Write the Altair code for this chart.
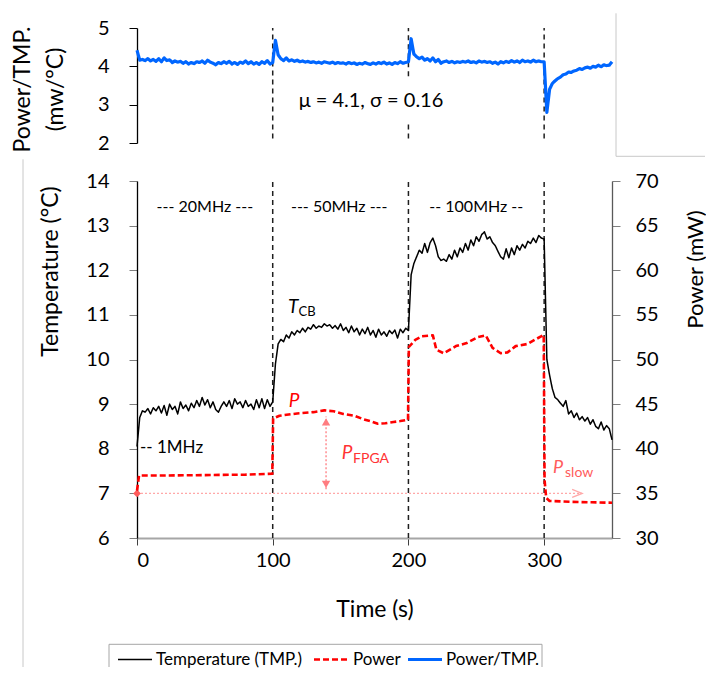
import altair as alt
import pandas as pd

FONT = "Lato"

# ---------------- data ----------------
time_s = list(range(0, 351, 2))

temperature_c = [
    # 0 - 98 s
    8.05, 8.70, 8.85, 8.82, 8.90, 8.78, 8.92, 8.85, 8.95, 8.80,
    8.97, 8.75, 9.00, 8.88, 8.95, 8.78, 9.05, 8.90, 8.98, 8.85,
    9.02, 8.92, 9.08, 8.95, 9.15, 8.98, 9.10, 8.92, 9.05, 8.88,
    8.82, 8.95, 9.05, 8.95, 9.08, 8.90, 9.12, 9.00, 9.05, 8.92,
    9.08, 8.95, 9.00, 8.88, 9.10, 8.92, 9.12, 8.90, 9.10, 8.95,
    # 100 - 198 s
    9.05, 9.90, 10.35, 10.45, 10.40, 10.55, 10.48, 10.62, 10.55, 10.65,
    10.60, 10.70, 10.62, 10.72, 10.68, 10.78, 10.70, 10.75, 10.72, 10.80,
    10.75, 10.78, 10.70, 10.76, 10.68, 10.80, 10.65, 10.72, 10.60, 10.75,
    10.62, 10.70, 10.55, 10.68, 10.58, 10.72, 10.55, 10.65, 10.50, 10.68,
    10.55, 10.62, 10.52, 10.65, 10.58, 10.66, 10.48, 10.68, 10.60, 10.70,
    # 200 - 298 s
    10.65, 11.90, 12.15, 12.30, 12.45, 12.38, 12.60, 12.40, 12.62, 12.72,
    12.55, 12.30, 12.22, 12.25, 12.20, 12.35, 12.25, 12.45, 12.30, 12.50,
    12.40, 12.60, 12.45, 12.68, 12.55, 12.75, 12.65, 12.80, 12.86, 12.70,
    12.75, 12.62, 12.55, 12.42, 12.30, 12.25, 12.48, 12.28, 12.50, 12.35,
    12.55, 12.45, 12.58, 12.50, 12.65, 12.60, 12.72, 12.62, 12.78, 12.72,
    # 300 - 350 s
    12.70, 10.00, 9.65, 9.35, 9.15, 9.10, 9.02, 8.95, 9.08, 8.78,
    8.85, 8.70, 8.80, 8.65, 8.72, 8.62, 8.70, 8.55, 8.65, 8.50,
    8.45, 8.60, 8.42, 8.52, 8.45, 8.20,
]

ratio_mw_per_c = [
    # 0 - 98 s
    4.42, 4.16, 4.18, 4.15, 4.20, 4.14, 4.18, 4.13, 4.20, 4.12,
    4.22, 4.15, 4.17, 4.10, 4.14, 4.11, 4.13, 4.08, 4.12, 4.06,
    4.10, 4.07, 4.12, 4.10, 4.14, 4.08, 4.16, 4.11, 4.08, 4.04,
    4.10, 4.07, 4.12, 4.08, 4.13, 4.06, 4.10, 4.05, 4.11, 4.08,
    4.14, 4.07, 4.12, 4.06, 4.10, 4.05, 4.12, 4.08, 4.15, 4.06,
    # 100 - 198 s
    4.10, 4.68, 4.30, 4.20, 4.15, 4.22, 4.14, 4.17, 4.13, 4.16,
    4.12, 4.14, 4.11, 4.13, 4.10, 4.12, 4.09, 4.11, 4.08, 4.12,
    4.10, 4.08, 4.11, 4.07, 4.10, 4.08, 4.09, 4.06, 4.10, 4.07,
    4.09, 4.05, 4.08, 4.06, 4.10, 4.07, 4.05, 4.09, 4.06, 4.10,
    4.07, 4.11, 4.06, 4.09, 4.05, 4.10, 4.07, 4.12, 4.08, 4.10,
    # 200 - 298 s
    4.12, 4.72, 4.32, 4.25, 4.20, 4.24, 4.16, 4.20, 4.14, 4.22,
    4.12, 4.18, 4.08, 4.12, 4.14, 4.10, 4.13, 4.09, 4.12, 4.10,
    4.13, 4.11, 4.14, 4.10, 4.12, 4.09, 4.14, 4.11, 4.13, 4.10,
    4.12, 4.08, 4.11, 4.06, 4.12, 4.09, 4.13, 4.10, 4.15, 4.11,
    4.14, 4.10, 4.16, 4.12, 4.14, 4.11, 4.16, 4.12, 4.14, 4.12,
    # 300 - 350 s
    4.12, 2.80, 3.40, 3.55, 3.62, 3.68, 3.72, 3.78, 3.80, 3.85,
    3.84, 3.88, 3.90, 3.94, 3.92, 3.96, 3.98, 3.95, 4.00, 3.98,
    4.03, 3.99, 4.04, 4.02, 4.03, 4.12,
]

power_time_s = [0, 1.5, 20, 50, 80, 99.7,
                100.3, 105, 118, 130, 138, 145, 152, 160, 167, 172,
                177.5, 183, 189, 194, 199.7,
                200.3, 205, 210, 218, 220.6, 226, 235, 243, 251, 257,
                262, 268, 273, 279, 288, 293, 299.7,
                300.3, 301.5, 304, 320, 335, 350]
power_mw = [35.3, 37.0, 37.0, 37.05, 37.1, 37.2,
            43.4, 43.7, 43.95, 44.1, 44.3, 44.2, 43.9, 43.7, 43.3, 43.1,
            42.8, 42.85, 43.0, 43.1, 43.25,
            51.4, 52.2, 52.6, 52.7, 51.1, 50.7, 51.5, 51.85, 52.5, 52.7,
            51.3, 50.7, 50.8, 51.5, 51.75, 52.2, 52.75,
            36.5, 34.5, 34.15, 34.05, 34.0, 33.95]

series_names = ["Temperature (TMP.)", "Power", "Power/TMP."]
series_colors = ["#000000", "#ff0000", "#0066ff"]
series_dash = [[1, 0], [6, 3], [1, 0]]
series_width = [1.5, 2.6, 3.2]

switch_x = [100, 200, 300]
clock_x = [50, 149, 250]
clock_labels = ["--- 20MHz ---", "--- 50MHz ---", "-- 100MHz --"]

# top panel marker segments (gap where the statistics label sits)
top_rule_x = [100, 200, 200, 300]
top_rule_lo = [2.12, 3.74, 2.12, 2.12]
top_rule_hi = [5.0, 5.0, 2.49, 5.0]

# ---------------- tables ----------------
temp_df = pd.DataFrame({"t": time_s, "v": temperature_c, "series": series_names[0]})
power_df = pd.DataFrame({"t": power_time_s, "v": power_mw, "series": series_names[1]})
ratio_df = pd.DataFrame({"t": time_s, "v": ratio_mw_per_c, "series": series_names[2]})

# ---------------- scales / axes ----------------
X_SCALE = alt.Scale(domain=[0, 350], nice=False, zero=False)
T_SCALE = alt.Scale(domain=[6, 14], nice=False, zero=False)
P_SCALE = alt.Scale(domain=[30, 70], nice=False, zero=False)
R_SCALE = alt.Scale(domain=[2, 5], nice=False, zero=False)

common = dict(labelFont=FONT, labelFontSize=20, labelColor="#000000",
              titleFont=FONT, titleFontSize=23, titleFontWeight="normal",
              titleColor="#000000", grid=False)

X_AXIS = alt.Axis(values=[0, 100, 200, 300], title="Time (s)", domainColor="#a6a6a6",
                  domainWidth=2, tickColor="#404040", tickSize=7, labelPadding=5,
                  titlePadding=28, **common)
T_AXIS = alt.Axis(values=list(range(6, 15)), title="Temperature (°C)", orient="left",
                  domainColor="#000000", domainWidth=1.3, tickColor="#7f7f7f", tickSize=8,
                  labelPadding=20, titleAngle=270, titleAlign="center", titleBaseline="top",
                  titleX=-97.5, titleY=90, **common)
P_AXIS = alt.Axis(values=list(range(30, 71, 5)), title="Power (mW)", orient="right",
                  domainColor="#595959", domainWidth=1.3, tickColor="#7f7f7f", tickSize=8,
                  labelPadding=15, titleAngle=270, titleAlign="center", titleBaseline="top",
                  titleX=73, titleY=88, labelFont=FONT, labelFontSize=20, labelColor="#000000",
                  titleFont=FONT, titleFontSize=22, titleFontWeight="normal",
                  titleColor="#000000", grid=False)
R_AXIS = alt.Axis(values=[2, 3, 4, 5], title=["Power/TMP.", "(mw/°C)"], orient="left",
                  domainColor="#000000", domainWidth=1.3, tickColor="#000000", tickSize=8,
                  labelPadding=20, titleAngle=270, titleAlign="center", titleBaseline="top",
                  titleX=-125.5, titleY=61, titleLineHeight=33, **common)


def series_enc():
    return dict(
        color=alt.Color("series:N", scale=alt.Scale(domain=series_names, range=series_colors),
                        legend=None),
        strokeDash=alt.StrokeDash("series:N", scale=alt.Scale(domain=series_names, range=series_dash),
                                  legend=None),
        strokeWidth=alt.StrokeWidth("series:N",
                                    scale=alt.Scale(type="ordinal", domain=series_names,
                                                    range=series_width),
                                    legend=None),
    )


def xb(f):
    return alt.X(f, type="quantitative", scale=X_SCALE, axis=X_AXIS)


def xt(f):
    return alt.X(f, type="quantitative", scale=X_SCALE, axis=None)


def yT(f):
    return alt.Y(f, type="quantitative", scale=T_SCALE, axis=T_AXIS)


def yR(f):
    return alt.Y(f, type="quantitative", scale=R_SCALE, axis=R_AXIS)


def text_layer(x, y, label, yfn, xfn, **kw):
    df = pd.DataFrame({"x": x, "y": y, "label": label})
    return alt.Chart(df).mark_text(font=FONT, **kw).encode(
        x=xfn("x"), y=yfn("y"), text="label:N")


ONE = pd.DataFrame({"a": [0]})


def px_rule(color="#c8c8c8", width=1, dash=None, **enc):
    kw = dict(color=color, strokeWidth=width)
    if dash is not None:
        kw["strokeDash"] = dash
    return alt.Chart(ONE).mark_rule(**kw).encode(**enc)


# ---------------- top panel ----------------
top_rules = alt.Chart(pd.DataFrame({"x": top_rule_x, "lo": top_rule_lo, "hi": top_rule_hi})).mark_rule(
    color="#1f1f1f", strokeDash=[5, 4], strokeWidth=1.5).encode(x=xt("x"), y=yR("lo"), y2="hi")
ratio_line = alt.Chart(ratio_df).mark_line(strokeJoin="round").encode(
    x=xt("t"), y=yR("v"), **series_enc())
mu_text = text_layer([172.4], [3.09], ["μ = 4.1, σ = 0.16"], yR, xt,
                     fontSize=20, color="#000000", align="center", baseline="middle")
top_frame = px_rule(x=alt.value(479), y=alt.value(-14.7), y2=alt.value(128.3))
top_frame2 = px_rule(x=alt.value(479), x2=alt.value(568), y=alt.value(128.3))

top = alt.layer(top_rules, ratio_line, mu_text, top_frame, top_frame2).properties(width=475, height=115)

# ---------------- bottom panel ----------------
b_rules = alt.Chart(pd.DataFrame({"x": switch_x, "lo": [6] * 3, "hi": [14] * 3})).mark_rule(
    color="#1f1f1f", strokeDash=[5, 4], strokeWidth=1.5).encode(x=xb("x"), y=yT("lo"), y2="hi")
temp_line = alt.Chart(temp_df).mark_line(strokeJoin="round").encode(
    x=xb("t"), y=yT("v"), **series_enc())

clock_text = text_layer(clock_x, [13.41] * 3, clock_labels, yT, xb,
                        fontSize=16, color="#000000", align="center", baseline="middle")
mhz1_text = text_layer([2.2], [8.01], ["-- 1MHz"], yT, xb,
                       fontSize=17, color="#000000", align="left", baseline="middle")
t_text = text_layer([115.0], [11.17], ["T"], yT, xb, fontSize=19, fontStyle="italic",
                    color="#000000", align="center", baseline="middle")
cb_text = text_layer([119.0], [11.06], ["CB"], yT, xb, fontSize=13,
                     color="#000000", align="left", baseline="middle")
p_text = text_layer([115.7], [9.08], ["P"], yT, xb, fontSize=19, fontStyle="italic",
                    color="#ff0000", align="center", baseline="middle")
pf_text = text_layer([154.8], [7.91], ["P"], yT, xb, fontSize=19, fontStyle="italic",
                     color="#ff3333", align="center", baseline="middle")
fpga_text = text_layer([159.2], [7.76], ["FPGA"], yT, xb, fontSize=14,
                       color="#ff3333", align="left", baseline="middle")
ps_text = text_layer([310.2], [7.57], ["P"], yT, xb, fontSize=18, fontStyle="italic",
                     color="#ff5c5c", align="center", baseline="middle")
slow_text = text_layer([315.4], [7.46], ["slow"], yT, xb, fontSize=14,
                       color="#ff5c5c", align="left", baseline="middle")

fpga_arrow = alt.Chart(pd.DataFrame({"x": [139.3], "lo": [7.09], "hi": [8.72]})).mark_rule(
    color="#ff7c80", strokeDash=[2, 2], strokeWidth=1.3).encode(x=xb("x"), y=yT("lo"), y2="hi")
fpga_up = alt.Chart(pd.DataFrame({"x": [139.3], "y": [8.6]})).mark_point(
    shape="triangle-up", filled=True, size=70, color="#ff7c80", opacity=1).encode(x=xb("x"), y=yT("y"))
fpga_dn = alt.Chart(pd.DataFrame({"x": [139.3], "y": [7.2]})).mark_point(
    shape="triangle-down", filled=True, size=70, color="#ff7c80", opacity=1).encode(x=xb("x"), y=yT("y"))
slow_arrow = alt.Chart(pd.DataFrame({"x": [0], "x2": [328], "y": [7]})).mark_rule(
    color="#ffa8a8", strokeDash=[2, 2], strokeWidth=1.3).encode(x=xb("x"), x2="x2", y=yT("y"))
slow_head = alt.Chart(pd.DataFrame({"x": [328], "y": [7]})).mark_point(
    shape="M-2,-0.8L0,0L-2,0.8", filled=False, size=100, color="#ffa8a8", strokeWidth=1.3,
    opacity=1).encode(x=xb("x"), y=yT("y"))
slow_diamond = alt.Chart(pd.DataFrame({"x": [0], "y": [7]})).mark_point(
    shape="diamond", filled=True, size=60, color="#ff5c5c", opacity=1).encode(x=xb("x"), y=yT("y"))

# frame of the lower figure (left edge) and legend box, in pixels of the lower panel
LEG_TOP, LEG_BOT, LEG_MID = 463.3, 486.0, 478.5
frame_left = px_rule(x=alt.value(-114), y=alt.value(-21.7), y2=alt.value(LEG_BOT))
leg_box = [
    px_rule(color="#a6a6a6", x=alt.value(-28), x2=alt.value(405), y=alt.value(LEG_TOP)),
    px_rule(color="#a6a6a6", x=alt.value(-28), y=alt.value(LEG_TOP), y2=alt.value(LEG_BOT)),
    px_rule(color="#a6a6a6", x=alt.value(405), y=alt.value(LEG_TOP), y2=alt.value(LEG_BOT)),
]
leg_sym_x = [-19, 177, 271]
leg_lab_x = [19, 216, 309]
leg_marks = []
for i in range(3):
    kw = dict(color=series_colors[i], strokeWidth=series_width[i])
    if i == 1:
        kw["strokeDash"] = series_dash[i]
    leg_marks.append(alt.Chart(ONE).mark_rule(**kw).encode(
        x=alt.value(leg_sym_x[i]), x2=alt.value(leg_sym_x[i] + 34), y=alt.value(LEG_MID)))
    leg_marks.append(alt.Chart(ONE).mark_text(
        text=series_names[i], font=FONT, fontSize=17, color="#000000", align="left",
        baseline="middle").encode(x=alt.value(leg_lab_x[i]), y=alt.value(LEG_MID)))

temp_group = alt.layer(b_rules, temp_line, slow_arrow, slow_head, slow_diamond,
                       fpga_arrow, fpga_up, fpga_dn, clock_text, mhz1_text, t_text, cb_text,
                       p_text, pf_text, fpga_text, ps_text, slow_text, frame_left,
                       *leg_box, *leg_marks)

power_line = alt.Chart(power_df).mark_line(strokeJoin="round").encode(
    x=xb("t"), y=alt.Y("v:Q", scale=P_SCALE, axis=P_AXIS), **series_enc())

bottom = alt.layer(temp_group, power_line).resolve_scale(y="independent").properties(
    width=475, height=357)

chart = alt.vconcat(top, bottom, spacing=1).properties(
    padding={"left": 3, "top": 4, "right": 0, "bottom": 0}
).configure_view(stroke=None)

chart.save("out.html", embed_options={"renderer": "svg", "actions": False})
